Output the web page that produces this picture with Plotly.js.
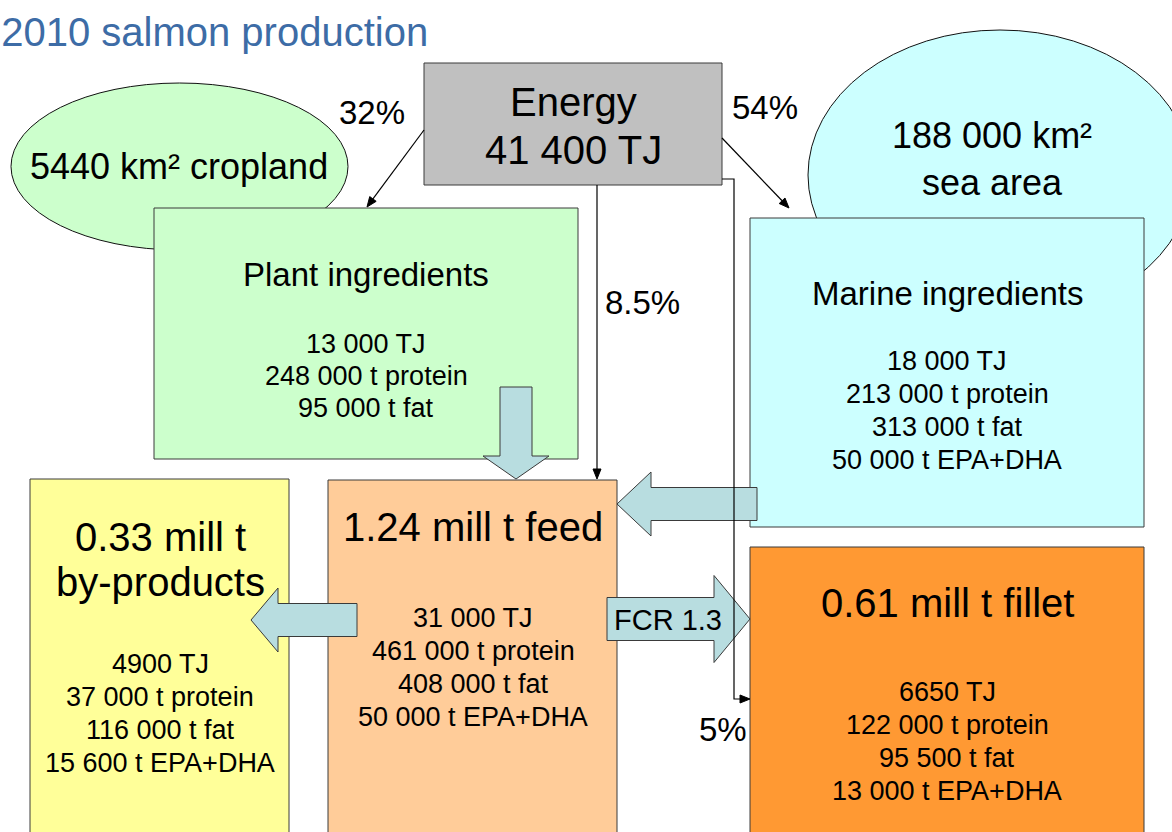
<!DOCTYPE html>
<html>
<head>
<meta charset="utf-8">
<script src="https://cdn.plot.ly/plotly-3.0.1.min.js"></script>
<style>html,body{margin:0;padding:0;background:#fff;}#chart{width:1172px;height:832px;}</style>
</head>
<body>
<div id="chart"></div>
<script>
// ---- content (values / labels) ----
const titleText = '2010 salmon production';
const energyLines = ['Energy', '41 400 TJ'];
const croplandLabel = '5440 km² cropland';
const seaLines = ['188 000 km²', 'sea area'];
const shareLabels = ['32%', '54%', '8.5%', '5%'];
const plantHead = ['Plant ingredients'];
const plantLines = ['13 000 TJ', '248 000 t protein', '95 000 t fat'];
const marineHead = ['Marine ingredients'];
const marineLines = ['18 000 TJ', '213 000 t protein', '313 000 t fat', '50 000 t EPA+DHA'];
const feedHead = ['1.24 mill t feed'];
const feedLines = ['31 000 TJ', '461 000 t protein', '408 000 t fat', '50 000 t EPA+DHA'];
const byHead = ['0.33 mill t', 'by-products'];
const byLines = ['4900 TJ', '37 000 t protein', '116 000 t fat', '15 600 t EPA+DHA'];
const filletHead = ['0.61 mill t fillet'];
const filletLines = ['6650 TJ', '122 000 t protein', '95 500 t fat', '13 000 t EPA+DHA'];
const fcrLabel = 'FCR 1.3';

// ---- layout helpers ----
const FONT = 'Liberation Sans, Arial, Helvetica, sans-serif';
const BORDER = '#3a3a3a';
const ARROWFILL = '#b8dde0';
const shapes = [];
const annotations = [];

function rect(x0, x1, y0, y1, fill) {
  shapes.push({type: 'rect', xref: 'x', yref: 'y', x0, x1, y0, y1,
    fillcolor: fill, line: {color: BORDER, width: 1}});
}
function ellipse(x0, x1, y0, y1, fill) {
  shapes.push({type: 'circle', xref: 'x', yref: 'y', x0, x1, y0, y1,
    fillcolor: fill, line: {color: '#111', width: 1}});
}
function poly(pts, fill, lineColor) {
  const d = 'M' + pts.map(p => p[0] + ',' + p[1]).join(' L') + ' Z';
  shapes.push({type: 'path', xref: 'x', yref: 'y', path: d,
    fillcolor: fill, line: {color: lineColor || BORDER, width: 1}});
}
function polyline(pts) {
  const d = 'M' + pts.map(p => p[0] + ',' + p[1]).join(' L');
  shapes.push({type: 'path', xref: 'x', yref: 'y', path: d,
    line: {color: '#000', width: 1.2}});
}
// connector ending in a small filled arrowhead at the last point
function connector(pts) {
  const n = pts.length;
  const [hx, hy] = pts[n - 1];
  const [px, py] = pts[n - 2];
  const len = Math.hypot(hx - px, hy - py);
  const ux = (hx - px) / len, uy = (hy - py) / len;
  const L = 10, W = 4;
  const bx = hx - ux * L, by = hy - uy * L;
  const line = pts.slice(0, n - 1).concat([[bx, by]]);
  polyline(line);
  poly([[hx, hy], [bx - uy * W, by + ux * W], [bx + uy * W, by - ux * W]], '#000', '#000');
}
function text(t, x, y, size, opts) {
  annotations.push(Object.assign({text: t, x, y, xref: 'x', yref: 'y', showarrow: false,
    xanchor: 'center', yanchor: 'middle',
    font: {family: FONT, size, color: '#000'}}, opts || {}));
}
function lines(arr, x, y0, step, size) {
  arr.forEach((t, i) => text(t, x, y0 + i * step, size));
}
// block arrows (down / horizontal)
function blockDown(cx, shaftW, headW, yTop, yHead, yTip) {
  poly([[cx - shaftW / 2, yTop], [cx + shaftW / 2, yTop], [cx + shaftW / 2, yHead], [cx + headW / 2, yHead],
        [cx, yTip], [cx - headW / 2, yHead], [cx - shaftW / 2, yHead]], ARROWFILL);
}
function blockH(cy, shaftH, headH, xTail, xHead, xTip) {
  poly([[xTail, cy - shaftH / 2], [xHead, cy - shaftH / 2], [xHead, cy - headH / 2], [xTip, cy],
        [xHead, cy + headH / 2], [xHead, cy + shaftH / 2], [xTail, cy + shaftH / 2]], ARROWFILL);
}

// ---- background shapes ----
ellipse(11, 348, 83, 250, '#ccffcc');
ellipse(808, 1192, 30, 320, '#ccffff');
rect(424, 722, 63, 185, '#c0c0c0');
rect(154, 578, 208, 459, '#ccffcc');
rect(750, 1144, 218, 527, '#ccffff');
rect(30, 289, 479, 845, '#ffff99');
rect(328, 617, 480, 845, '#ffcc99');
rect(750, 1144, 547, 845, '#ff9933');

// block arrows
blockDown(516, 32, 66, 387, 456, 479);            // plant -> feed
blockH(504, 33, 64, 757, 651, 617);               // marine -> feed
blockH(620, 33, 64, 357, 278, 251);               // feed -> by-products
blockH(619, 43, 87, 607, 714, 750);               // feed -> fillet (FCR)

// thin connector lines with arrowheads
connector([[597, 185], [597, 479]]);
connector([[722, 179], [734, 179], [734, 699], [750, 699]]);
connector([[424, 130], [367, 207]]);
connector([[722, 138], [789, 208]]);

// ---- texts ----
lines(energyLines, 573, 102, 48, 40);
text(croplandLabel, 179, 166, 36);
lines(seaLines, 992, 135, 47, 36);
text(shareLabels[0], 372, 112, 33);
text(shareLabels[1], 765, 107, 33);
text(shareLabels[2], 642, 302, 33);
text(shareLabels[3], 723, 729, 33);

lines(plantHead, 366, 274, 40, 33);
lines(plantLines, 366, 344, 32, 27);
lines(marineHead, 947, 293, 40, 33);
lines(marineLines, 947, 361, 33, 27);
lines(feedHead, 473, 527, 46, 40);
lines(feedLines, 473, 618, 33, 27);
lines(byHead, 160, 537, 45, 40);
lines(byLines, 160, 664, 33, 27);
lines(filletHead, 947, 603, 46, 40);
lines(filletLines, 947, 692, 33, 27);
text(fcrLabel, 668, 620, 29);

const layout = {
  width: 1172, height: 832,
  margin: {l: 0, r: 0, t: 0, b: 0, pad: 0},
  paper_bgcolor: '#ffffff', plot_bgcolor: '#ffffff',
  showlegend: false,
  title: {text: titleText, x: 0.001, xanchor: 'left', xref: 'paper',
          y: 32, yref: 'container', yanchor: 'middle',
          font: {family: FONT, size: 40, color: '#3d6ca6'}},
  xaxis: {range: [0, 1172], visible: false, fixedrange: true},
  yaxis: {range: [832, 0], visible: false, fixedrange: true},
  shapes, annotations
};
// title y in container fraction (top = 1)
layout.title.y = 1 - 32 / 832;
Plotly.newPlot('chart', [], layout, {staticPlot: true, displayModeBar: false});
</script>
</body>
</html>
